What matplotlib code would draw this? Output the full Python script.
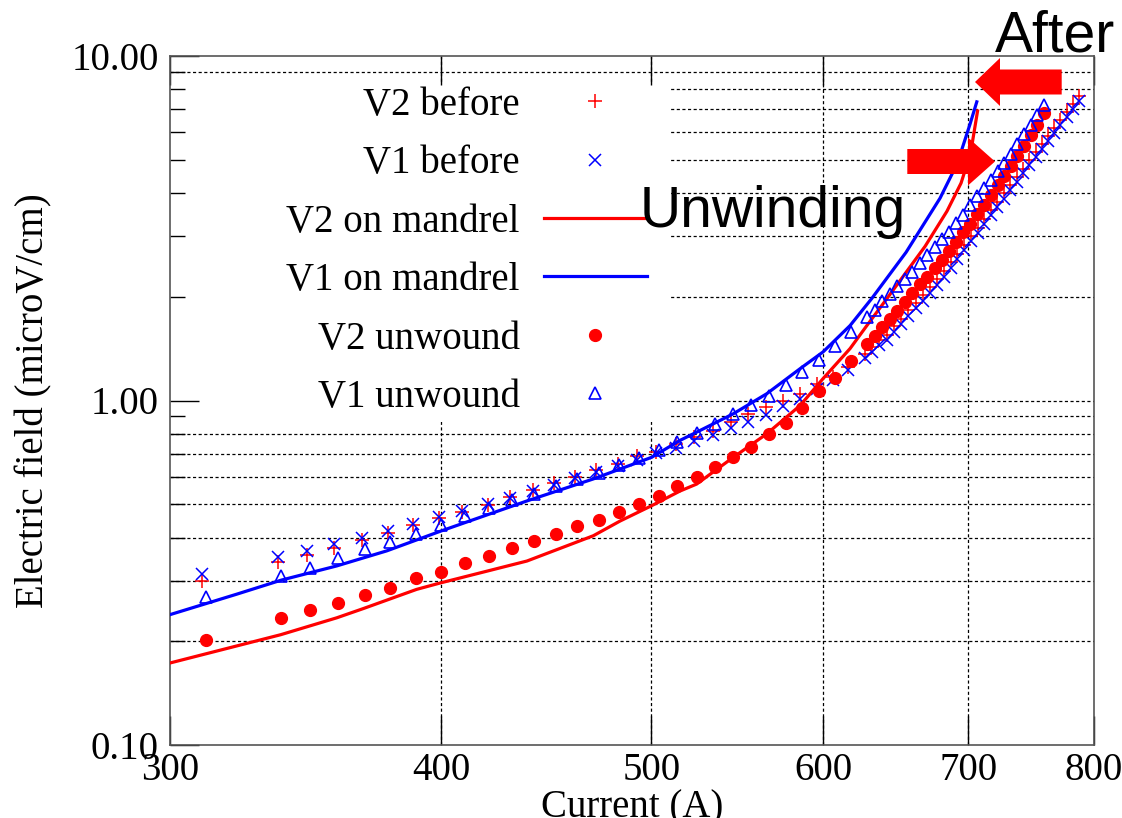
import matplotlib
matplotlib.use('Agg')
import matplotlib.pyplot as plt
import matplotlib.ticker as mticker
import matplotlib.patches as mpatches
from matplotlib.transforms import IdentityTransform

# ---- data ----
# currents of the "before" measurements (A)
i_before = [310.5, 336.5, 346.9, 357.1, 367.7, 378.0, 388.4, 399.0, 409.2, 420.4,
            430.5, 440.8, 451.2, 461.3, 471.6, 482.6, 492.4, 502.5, 513.4, 523.4,
            533.8, 544.1, 554.3, 564.6, 574.9, 585.6, 596.1, 606.7, 616.4, 627.5,
            632, 637, 642, 647, 652, 657, 662, 667, 672, 677,
            682, 687, 692, 697, 702, 707, 712, 717, 722, 727,
            732, 737, 742, 747, 752, 757, 762, 767, 772, 777,
            782, 787]
v2_before = [0.299, 0.339, 0.355, 0.372, 0.393, 0.413, 0.434, 0.455, 0.475, 0.497,
             0.523, 0.551, 0.576, 0.598, 0.628, 0.654, 0.688, 0.709, 0.748, 0.782,
             0.818, 0.865, 0.915, 0.957, 1.000, 1.046, 1.118, 1.170, 1.251, 1.368,
             1.431, 1.495, 1.553, 1.645, 1.729, 1.825, 1.925, 2.024, 2.129, 2.246,
             2.371, 2.518, 2.666, 2.822, 2.997, 3.172, 3.359, 3.567, 3.777, 3.999,
             4.220, 4.452, 4.713, 4.989, 5.264, 5.555, 5.861, 6.184, 6.524, 6.883,
             7.238, 7.638]
v1_before = [0.313, 0.351, 0.366, 0.384, 0.400, 0.419, 0.438, 0.458, 0.478, 0.500,
             0.521, 0.546, 0.568, 0.594, 0.621, 0.647, 0.672, 0.702, 0.728, 0.765,
             0.795, 0.831, 0.869, 0.909, 0.962, 1.012, 1.079, 1.144, 1.223, 1.329,
             1.383, 1.446, 1.500, 1.582, 1.668, 1.758, 1.853, 1.950, 2.053, 2.161,
             2.286, 2.427, 2.578, 2.731, 2.899, 3.073, 3.253, 3.446, 3.645, 3.857,
             4.080, 4.313, 4.560, 4.818, 5.087, 5.370, 5.667, 5.978, 6.304, 6.653,
             7.006, 7.381]

# currents of the "unwound" measurements (A)
i_unwound = [311.6, 337.6, 348.0, 358.4, 368.9, 379.1, 389.5, 400.0, 410.3, 420.7,
             431.1, 441.7, 452.0, 462.2, 472.8, 483.2, 493.5, 504.0, 514.1, 524.7,
             535.0, 545.5, 555.9, 566.4, 576.9, 587.0, 597.2, 607.9, 618.2, 628.6,
             634.1, 638.8, 643.9, 649.1, 654.4, 659.7, 665.1, 670.2, 675.4, 680.7,
             686.1, 691.2, 696.4, 701.4, 706.6, 711.9, 717.0, 722.3, 727.4, 732.6,
             737.5, 742.8, 748.3, 753.1, 758.7]
v2_unwound = [0.202, 0.233, 0.247, 0.258, 0.272, 0.286, 0.305, 0.318, 0.338, 0.353,
              0.372, 0.390, 0.409, 0.431, 0.451, 0.476, 0.502, 0.527, 0.565, 0.601,
              0.643, 0.686, 0.733, 0.798, 0.861, 0.950, 1.064, 1.165, 1.303, 1.456,
              1.538, 1.631, 1.724, 1.819, 1.929, 2.045, 2.173, 2.289, 2.424, 2.564,
              2.722, 2.893, 3.078, 3.264, 3.467, 3.690, 3.937, 4.210, 4.481, 4.792,
              5.125, 5.481, 5.888, 6.297, 6.851]
v1_unwound = [0.269, 0.309, 0.326, 0.348, 0.370, 0.389, 0.411, 0.436, 0.462, 0.487,
              0.513, 0.536, 0.565, 0.592, 0.618, 0.649, 0.679, 0.719, 0.758, 0.803,
              0.855, 0.913, 0.968, 1.032, 1.109, 1.208, 1.314, 1.438, 1.582, 1.747,
              1.837, 1.941, 2.035, 2.148, 2.247, 2.365, 2.501, 2.639, 2.785, 2.938,
              3.093, 3.270, 3.458, 3.690, 3.911, 4.135, 4.372, 4.626, 4.891, 5.195,
              5.537, 5.920, 6.310, 6.747, 7.214]

# on-mandrel curves
i_v1_mandrel = [300, 322, 337.6, 358.1, 377.6, 400, 438.2, 470.2, 500.2, 515.5,
                526.5, 545.5, 565.2, 585.6, 600, 617.5, 631.9, 655.3, 679.4, 688.8,
                695.4, 701.4, 706.4]
v1_mandrel = [0.239, 0.274, 0.301, 0.331, 0.366, 0.418, 0.511, 0.592, 0.684, 0.766,
              0.818, 0.915, 1.046, 1.237, 1.383, 1.650, 1.978, 2.692, 3.867, 4.604,
              5.370, 6.351, 7.36]
i_v2_mandrel = [300, 337.4, 358.1, 368.4, 389.8, 399.4, 438.2, 470.2, 483.8, 500.2,
                515.5, 524.7, 545.5, 565.2, 585.6, 600, 617.5, 628.6, 642.2, 668.7,
                684.4, 694.7, 701.8, 707.0]
v2_mandrel = [0.173, 0.209, 0.234, 0.249, 0.283, 0.295, 0.342, 0.405, 0.447, 0.495,
              0.546, 0.572, 0.684, 0.800, 0.967, 1.157, 1.415, 1.650, 1.978, 2.803,
              3.544, 4.276, 5.228, 6.93]

x_ticks = [300, 400, 500, 600, 700, 800]
y_ticks = [0.1, 1, 10]
y_tick_labels = ['0.10', '1.00', '10.00']

RED = '#ff0000'
BLUE = '#0000ff'

plt.rcParams['font.family'] = ['Liberation Serif', 'DejaVu Serif']

W, H = 1122, 818
fig = plt.figure(figsize=(W / 100, H / 100), dpi=100)
ax = fig.add_axes([170 / W, 1 - 745 / H, 924 / W, 689 / H])
ax.set_xscale('log')
ax.set_yscale('log')
ax.set_xlim(300, 800)
ax.set_ylim(0.1, 10)

# dotted grid, drawn by hand so the legend box can hide it but not the ticks
grid_style = dict(color='black', lw=0.9, ls=(0, (2.5, 2)), zorder=1)
for xv in x_ticks[1:-1]:
    ax.axvline(xv, **grid_style)
for yv in [0.2, 0.3, 0.4, 0.5, 0.6, 0.7, 0.8, 0.9, 1, 2, 3, 4, 5, 6, 7, 8, 9]:
    ax.axhline(yv, **grid_style)

# white box behind the legend
ax.add_patch(mpatches.Rectangle((0, 0.469), 0.541, 0.493, transform=ax.transAxes,
                                fc='white', ec='none', zorder=1.5))

ax.plot(i_before, v2_before, ls='none', marker='+', ms=10, mew=1.1, color=RED,
        label='V2 before', zorder=3)
ax.plot(i_before, v1_before, ls='none', marker='x', ms=8.5, mew=1.1, color=BLUE,
        label='V1 before', zorder=3)
ax.plot(i_v2_mandrel, v2_mandrel, color=RED, lw=2.3, label='V2 on mandrel', zorder=3)
ax.plot(i_v1_mandrel, v1_mandrel, color=BLUE, lw=2.3, label='V1 on mandrel', zorder=3)
ax.plot(i_unwound, v2_unwound, ls='none', marker='o', ms=8.5, color=RED, mec=RED,
        label='V2 unwound', zorder=3)
ax.plot(i_unwound, v1_unwound, ls='none', marker='^', ms=8.5, mew=1.2, mfc='none',
        mec=BLUE, color=BLUE, label='V1 unwound', zorder=3)

# axes / ticks
ax.xaxis.set_major_locator(mticker.FixedLocator(x_ticks))
ax.xaxis.set_major_formatter(mticker.FixedFormatter([str(v) for v in x_ticks]))
ax.xaxis.set_minor_locator(mticker.NullLocator())
ax.yaxis.set_major_locator(mticker.FixedLocator(y_ticks))
ax.yaxis.set_major_formatter(mticker.FixedFormatter(y_tick_labels))
ax.yaxis.set_minor_locator(mticker.LogLocator(base=10, subs=range(2, 10)))
ax.yaxis.set_minor_formatter(mticker.NullFormatter())
ax.tick_params(which='major', direction='in', length=21, width=1, top=True, right=False,
               labelsize=28, color='black')
ax.tick_params(which='minor', direction='in', length=11, width=1, top=True, right=False)
ax.tick_params(axis='x', pad=5)
ax.tick_params(axis='y', pad=8)
for sp in ax.spines.values():
    sp.set_color('#555555')
    sp.set_linewidth(1.2)

ax.set_xlabel('Current (A)', fontsize=28, labelpad=0)
ax.set_ylabel('Electric field (microV/cm)', fontsize=28, labelpad=14)

ax.legend(loc='upper right', bbox_to_anchor=(0.5162, 0.9555), markerfirst=False,
          frameon=False, numpoints=1, handlelength=2.65, handletextpad=0.62,
          labelspacing=0.552, borderpad=0, borderaxespad=0, fontsize=28)

# overlay: arrows and captions (pixel positions, y from bottom)
fig.add_artist(mpatches.FancyArrow(1061.7, H - 82, -86.7, 0, width=25, head_width=48,
                                   head_length=25, length_includes_head=True,
                                   color=RED, lw=0, transform=IdentityTransform()))
fig.add_artist(mpatches.FancyArrow(907.3, H - 161.5, 87.7, 0, width=25, head_width=48,
                                   head_length=27, length_includes_head=True,
                                   color=RED, lw=0, transform=IdentityTransform()))
fig.text(640 / W, 1 - 226.7 / H, 'Unwinding', fontsize=41, family='Liberation Sans',
         ha='left', va='baseline')
fig.text(995 / W, 1 - 51.7 / H, 'After', fontsize=41, family='Liberation Sans',
         ha='left', va='baseline')

fig.savefig('out.png', dpi=100)
